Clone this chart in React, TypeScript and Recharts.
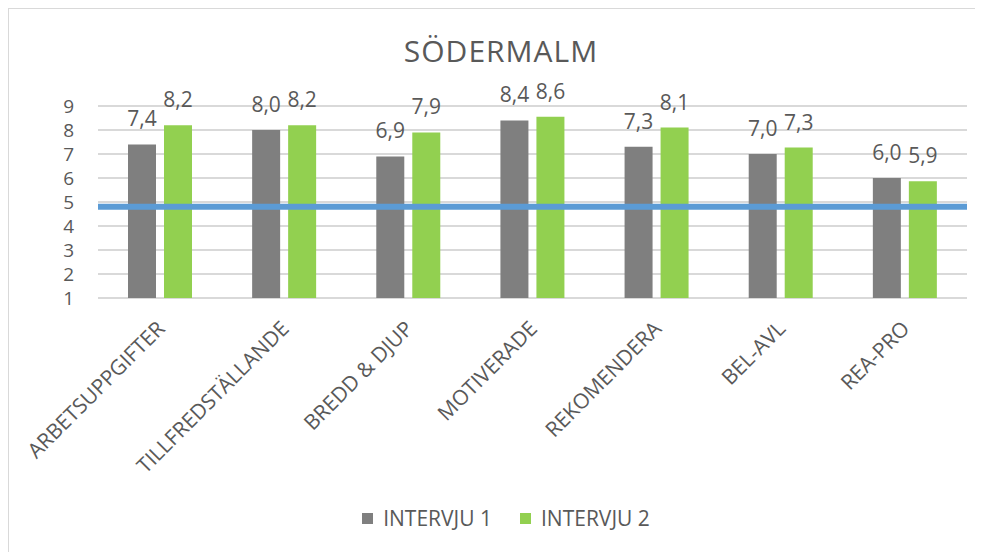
import React from 'react';
import { BarChart, Bar, XAxis, YAxis, CartesianGrid, Legend, LabelList, ReferenceLine } from 'recharts';

const categories = ['ARBETSUPPGIFTER', 'TILLFREDSTÄLLANDE', 'BREDD & DJUP', 'MOTIVERADE', 'REKOMENDERA', 'BEL-AVL', 'REA-PRO'];
const intervju1 = [7.4, 8.0, 6.9, 8.4, 7.3, 7.0, 6.0];
const intervju2 = [8.2, 8.2, 7.9, 8.55, 8.1, 7.27, 5.86];
const yTicks = [1, 2, 3, 4, 5, 6, 7, 8, 9];
const benchmark = 4.8;

const FONT = '"Open Sans", Calibri, sans-serif';
const TEXT = '#595959';
const GREY = '#7F7F7F';
const GREEN = '#92D050';
const BLUE = '#5B9BD5';

const data = categories.map((name, i) => ({ name, i1: intervju1[i], i2: intervju2[i] }));

const fmt = (v: any) => Number(v).toFixed(1).replace('.', ',');

const CategoryTick = ({ x, y, payload }: any) => (
  <g transform={`translate(${x + 6},${y + 24})`}>
    <text x={0} y={0} textAnchor="end" transform="rotate(-45)" fill={TEXT} fontSize={21} fontFamily={FONT}>
      {payload.value}
    </text>
  </g>
);

const LegendContent = () => (
  <div style={{ display: 'flex', justifyContent: 'center', alignItems: 'center', paddingLeft: 20, height: 30, fontFamily: FONT, fontSize: 21, color: TEXT }}>
    {[['INTERVJU 1', GREY], ['INTERVJU 2', GREEN]].map(([label, color], i) => (
      <div key={label} style={{ display: 'flex', alignItems: 'center', marginLeft: i ? 28 : 0 }}>
        <span style={{ width: 11, height: 11, background: color, display: 'inline-block', marginRight: 10 }} />
        <span>{label}</span>
      </div>
    ))}
  </div>
);

export default function App() {
  return (
    <div style={{ position: 'relative', marginLeft: -1, marginTop: -1, width: 976, height: 545, boxSizing: 'border-box', borderTop: '2px solid #D9D9D9', borderLeft: '2px solid #D9D9D9', background: '#fff', overflow: 'hidden' }}>
      <div style={{ position: 'absolute', top: 27, left: 0, width: 984, textAlign: 'center', fontFamily: FONT, fontSize: 30, lineHeight: '30px', letterSpacing: 1, color: TEXT }}>
        SÖDERMALM
      </div>
      <BarChart width={974} height={543} data={data} margin={{ top: 97, right: 16, left: 49, bottom: 19 }} barSize={28} barGap={8}>
        <CartesianGrid vertical={false} stroke="#D9D9D9" strokeWidth={2} />
        <XAxis dataKey="name" interval={0} axisLine={false} tickLine={false} height={205} tick={<CategoryTick />} />
        <YAxis domain={[1, 9]} ticks={yTicks} interval={0} width={40} axisLine={false} tickLine={false} tickMargin={18}
          tick={{ fill: TEXT, fontSize: 19, fontFamily: FONT }} />
        <Legend verticalAlign="bottom" wrapperStyle={{ height: 30, left: 0, width: 974 }} content={<LegendContent />} />
        <Bar dataKey="i1" name="INTERVJU 1" fill={GREY} isAnimationActive={false}>
          <LabelList dataKey="i1" position="top" offset={18} formatter={fmt} fill={TEXT} fontSize={21} fontFamily={FONT} />
        </Bar>
        <Bar dataKey="i2" name="INTERVJU 2" fill={GREEN} isAnimationActive={false}>
          <LabelList dataKey="i2" position="top" offset={18} formatter={fmt} fill={TEXT} fontSize={21} fontFamily={FONT} />
        </Bar>
        <ReferenceLine y={benchmark} stroke={BLUE} strokeWidth={6} />
      </BarChart>
    </div>
  );
}
